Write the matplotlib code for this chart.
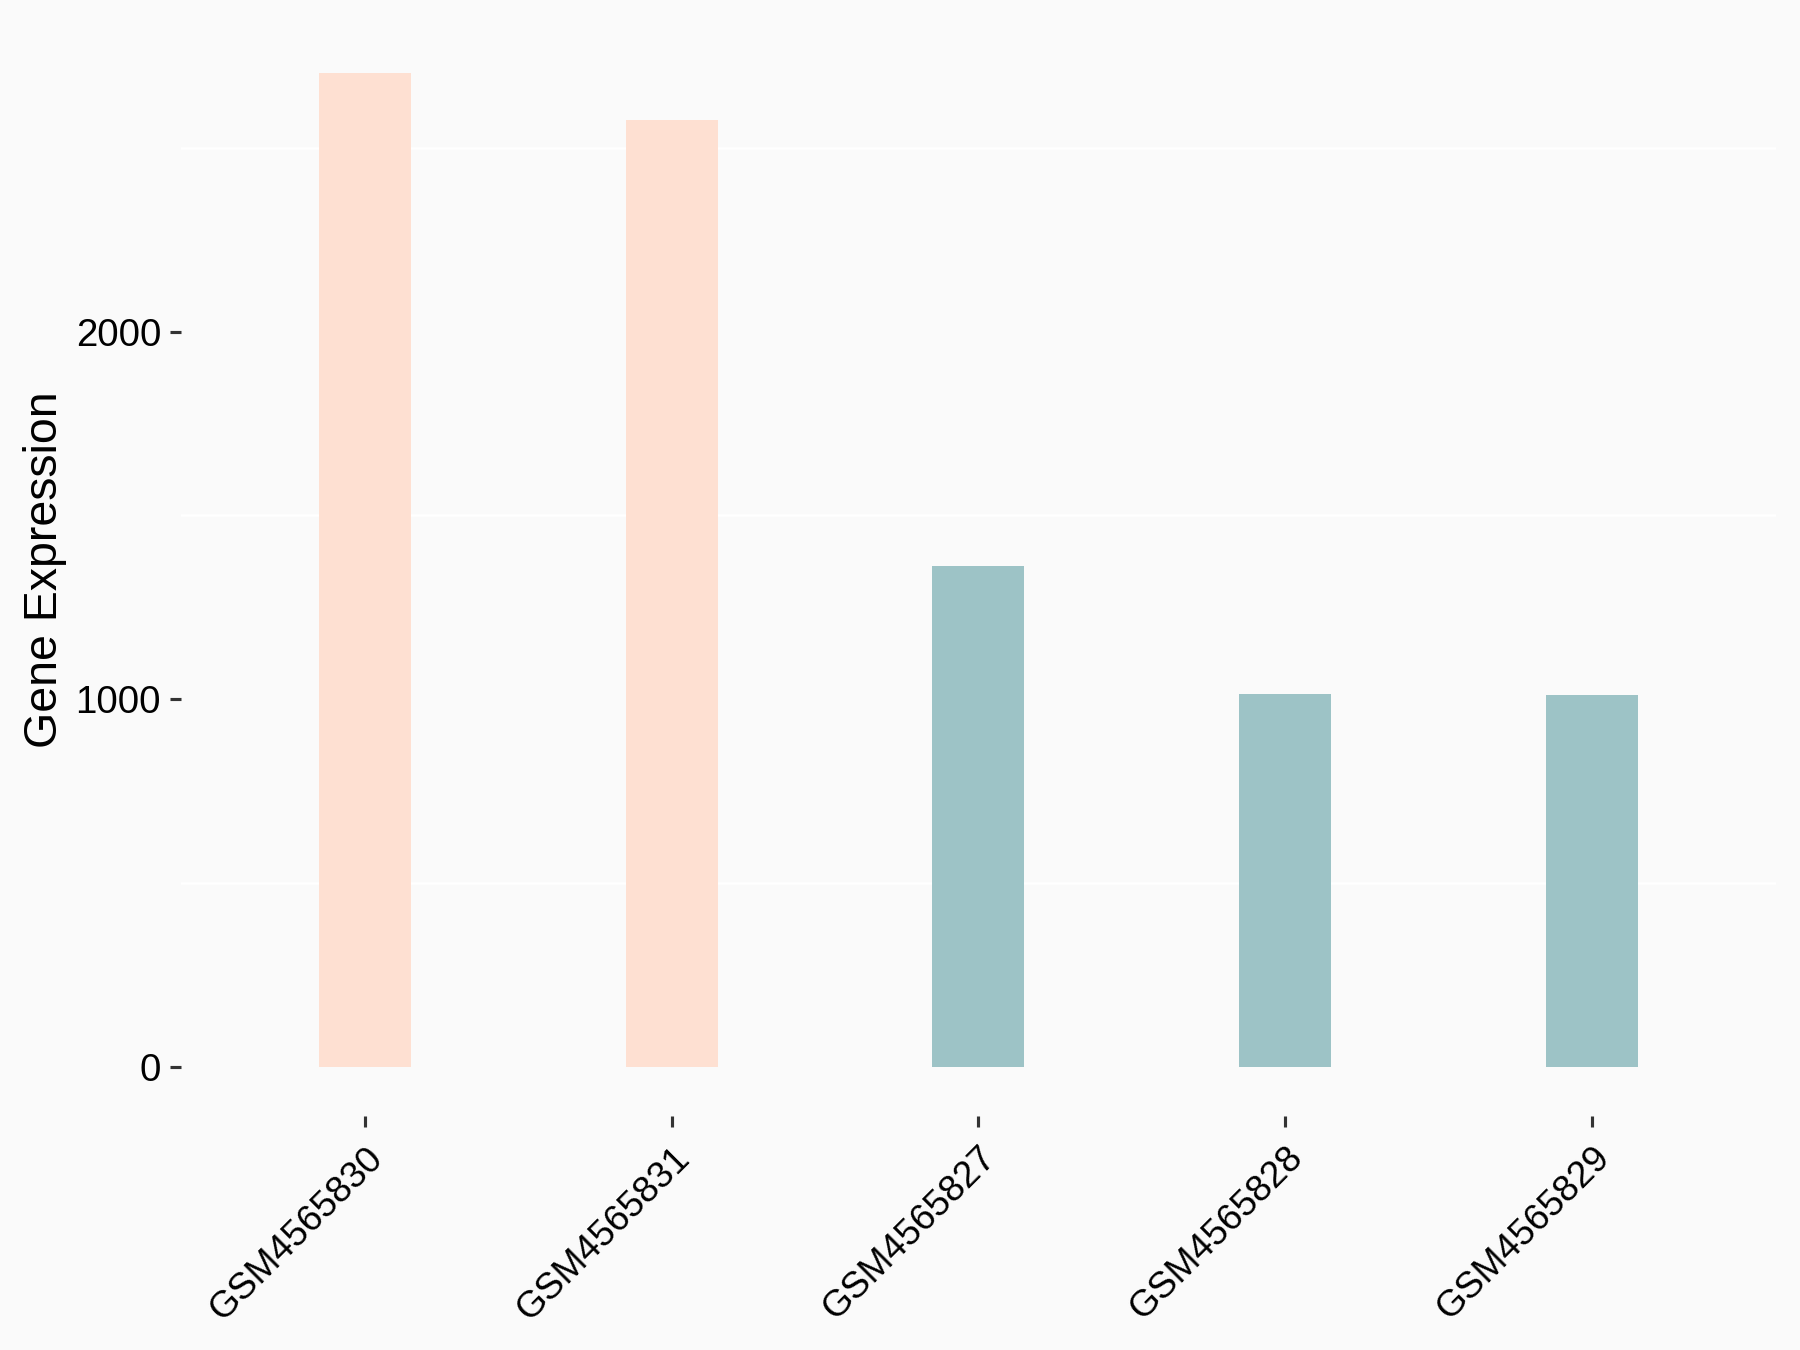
import matplotlib
matplotlib.use("Agg")
from matplotlib import pyplot as plt
import numpy as np

# данные
samples = ["GSM4565830", "GSM4565831", "GSM4565827", "GSM4565828", "GSM4565829"]
expression = [2705, 2577, 1363, 1014, 1011]
groups = ["A", "A", "B", "B", "B"]
group_colors = {"A": "#FEE0D2", "B": "#9DC3C6"}

plt.rcParams['font.family'] = ['Liberation Sans', 'DejaVu Sans']

bg = "#FAFAFA"
fig = plt.figure(figsize=(12, 9), dpi=150, facecolor=bg)
ax = fig.add_axes([0.1005, 0.173, 0.886, 0.81], facecolor=bg)

x = np.arange(len(samples))
cols = [group_colors[g] for g in groups]
ax.bar(x, expression, width=0.3, color=cols, zorder=2)

ymax = max(expression)
ax.set_xlim(-0.6, len(samples) - 0.4)
ax.set_ylim(-0.05 * ymax, 1.05 * ymax)

ax.set_yticks([0, 1000, 2000])
ax.set_yticklabels(["0", "1000", "2000"])
ax.set_yticks([500, 1500, 2500], minor=True)
ax.yaxis.grid(True, which='minor', color='white', linewidth=1.2, zorder=1)
ax.tick_params(axis='y', which='minor', length=0)

ax.set_xticks(x)
ax.set_xticklabels(samples, rotation=45, ha='right', va='top',
                   rotation_mode='anchor')

ax.tick_params(axis='both', which='major', length=5.5, width=1.5,
               color='#333333', labelsize=18.5, labelcolor='black')
ax.tick_params(axis='x', which='major', labelsize=17.8, pad=6)
ax.tick_params(axis='y', which='major', pad=4)

for s in ax.spines.values():
    s.set_visible(False)

ax.set_ylabel("Gene Expression", fontsize=22.3, labelpad=4)

fig.savefig("out.png", dpi=150, facecolor=bg)
